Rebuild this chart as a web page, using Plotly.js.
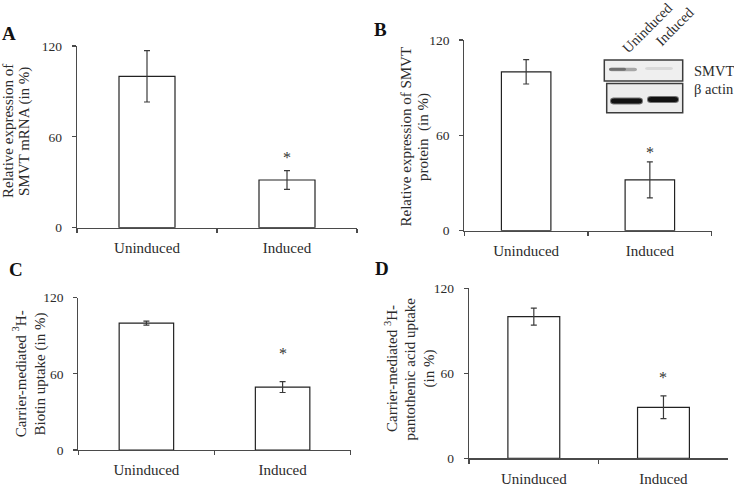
<!DOCTYPE html>
<html>
<head>
<meta charset="utf-8">
<script src="https://cdn.plot.ly/plotly-3.0.1.min.js"></script>
<style>html,body{margin:0;padding:0;background:#fff}#chart{width:734px;height:485px}</style>
</head>
<body>
<div id="chart"></div>
<script>
// ---------- data ----------
const categories = ["Uninduced", "Induced"];
const mrnaValues = [100, 31.5];
const mrnaErrors = [17, 6.2];
const proteinValues = [100, 32];
const proteinErrors = [7.7, 11.3];
const biotinValues = [100, 49.6];
const biotinErrors = [1.6, 4.3];
const pantoValues = [100, 36];
const pantoErrors = [6, 8];
const starLevels = [48.7, 51.8, 79.3, 59.6];   // height of "*" above the Induced bar, per panel
const yTickValues = [0, 60, 120];
const panelLetters = ["A", "B", "C", "D"];
const yTitleLines = [
  ["Relative expression of", "SMVT mRNA (in %)"],
  ["Relative expression of SMVT", "protein  (in %)"],
  ["Carrier-mediated <sup>3</sup>H-", "Biotin uptake (in %)"],
  ["Carrier-mediated <sup>3</sup>H-", "pantothenic acid uptake", "(in %)"]
];
const blotLanes = ["Uninduced", "Induced"];
const blotRows = ["SMVT", "\u03B2 actin"];

// ---------- layout helpers ----------
const W = 734, H = 485;
const fx = p => p / W;
const fy = p => 1 - p / H;
const FONT = "Liberation Serif";
const AX = "#4a4a4a";
const TXT = "#2b2b2b";

const panels = [
  {vals: mrnaValues, errs: mrnaErrors, xd: [77, 357], yd: [46, 227.7],
   letter: [8.5, 34], titleX: [8.5, 24.5], titleY: 131.5},
  {vals: proteinValues, errs: proteinErrors, xd: [464.3, 711.7], yd: [40, 230.7],
   letter: [381, 29], titleX: [405.5, 423], titleY: 137},
  {vals: biotinValues, errs: biotinErrors, xd: [78.3, 350.7], yd: [297.7, 450],
   letter: [16, 269], titleX: [19.3, 39.5], titleY: 374},
  {vals: pantoValues, errs: pantoErrors, xd: [469, 728.3], yd: [288.3, 458.3],
   letter: [381.5, 268.5], titleX: [391, 409.5, 428.5], titleY: 369}
];

const data = [];
const layout = {
  width: W, height: H,
  margin: {l: 0, r: 0, t: 0, b: 0},
  paper_bgcolor: "#fff", plot_bgcolor: "rgba(0,0,0,0)",
  showlegend: false,
  font: {family: FONT, color: TXT, size: 14},
  annotations: [], shapes: []
};

panels.forEach((p, i) => {
  const n = i + 1;
  const sfx = n === 1 ? "" : String(n);
  const xa = "x" + sfx, ya = "y" + sfx;
  data.push({
    type: "bar", x: categories, y: p.vals, xaxis: xa, yaxis: ya, width: 0.4,
    marker: {color: "#ffffff", line: {color: "#222", width: 1.2}},
    error_y: {type: "data", array: p.errs, visible: true, color: "#3a3a3a", thickness: 1.2, width: 3},
    hoverinfo: "skip"
  });
  layout.annotations.push({
    xref: xa, yref: ya, x: categories[1], y: starLevels[i], text: "*",
    showarrow: false, xanchor: "center", yanchor: "middle", yshift: -4,
    font: {family: FONT, size: 16, color: "#333"}
  });
  layout["xaxis" + sfx] = {
    domain: [fx(p.xd[0]), fx(p.xd[1])], anchor: ya, type: "category",
    range: [-0.5, 1.5], tickson: "boundaries", ticks: "outside", ticklen: 4,
    tickcolor: AX, tickwidth: 1.2, showline: true, linecolor: AX, linewidth: 1.2,
    showgrid: false, zeroline: false, fixedrange: true,
    tickfont: {family: FONT, size: 15, color: TXT}, ticklabelstandoff: 6
  };
  layout["yaxis" + sfx] = {
    domain: [fy(p.yd[1]), fy(p.yd[0])], anchor: xa, range: [0, 120],
    tickmode: "array", tickvals: yTickValues, ticktext: yTickValues.map(String),
    ticks: "outside", ticklen: 4, tickcolor: AX, tickwidth: 1.2,
    showline: true, linecolor: AX, linewidth: 1.2, showgrid: false, zeroline: false,
    fixedrange: true, tickfont: {family: FONT, size: 13.5, color: TXT}, ticklabelstandoff: 7
  };
  layout.annotations.push({
    xref: "paper", yref: "paper", x: fx(p.letter[0]), y: fy(p.letter[1]),
    text: panelLetters[i], showarrow: false,
    xanchor: "center", yanchor: "middle",
    font: {family: FONT, size: 19, color: "#111", weight: "bold"}
  });
  yTitleLines[i].forEach((line, k) => {
    layout.annotations.push({
      xref: "paper", yref: "paper", x: fx(p.titleX[k]), y: fy(p.titleY),
      text: line, showarrow: false, textangle: -90,
      xanchor: "center", yanchor: "middle",
      font: {family: FONT, size: 15, color: TXT}
    });
  });
});

// ---------- western blot inset (panel B) ----------
function rect(x0, y0, x1, y1, fill, lineColor, lw) {
  return {type: "rect", xref: "paper", yref: "paper", layer: "above",
    x0: fx(x0), x1: fx(x1), y0: fy(y1), y1: fy(y0),
    fillcolor: fill, line: {color: lineColor, width: lw}};
}
function band(x0, x1, yc, h, color, opacity) {
  const a = fx(x0), b = fx(x1), t = fy(yc - h / 2), m = fy(yc), bo = fy(yc + h / 2);
  const e = (b - a) * 0.08;
  const path = `M${a},${m} C${a},${t} ${a + e},${t} ${a + 2 * e},${t} L${b - 2 * e},${t} C${b - e},${t} ${b},${t} ${b},${m} ` +
    `C${b},${bo} ${b - e},${bo} ${b - 2 * e},${bo} L${a + 2 * e},${bo} C${a + e},${bo} ${a},${bo} ${a},${m} Z`;
  return {type: "path", xref: "paper", yref: "paper", layer: "above", path: path,
    fillcolor: color, opacity: opacity, line: {width: 0}};
}
layout.shapes.push(rect(604.3, 60, 682.7, 81, "#efefef", "#3c3c3c", 1.5));
layout.shapes.push(rect(606.7, 83.5, 682.7, 112.7, "#ececec", "#3c3c3c", 1.5));
layout.shapes.push(band(609, 637, 69.5, 3.6, "#777", 0.6));
layout.shapes.push(band(609, 626, 69.3, 3.0, "#444", 0.55));
layout.shapes.push(band(645, 673, 68.5, 3.0, "#c4c4c4", 0.5));
layout.shapes.push(band(610, 643, 101, 7, "#222", 0.6));
layout.shapes.push(band(611, 642, 101, 5, "#111", 1));
layout.shapes.push(band(647, 679, 99.5, 7, "#222", 0.6));
layout.shapes.push(band(648, 678, 99.5, 5, "#111", 1));

const laneCenters = [[647, 27.5], [674, 26.5]];
blotLanes.forEach((lab, k) => {
  layout.annotations.push({
    xref: "paper", yref: "paper", x: fx(laneCenters[k][0]), y: fy(laneCenters[k][1]),
    text: lab, showarrow: false, textangle: -45, xanchor: "center", yanchor: "middle",
    font: {family: FONT, size: 14.5, color: TXT}
  });
});
const rowPos = [[692, 70.5], [692, 88.5]];
blotRows.forEach((lab, k) => {
  layout.annotations.push({
    xref: "paper", yref: "paper", x: fx(rowPos[k][0]), y: fy(rowPos[k][1]),
    text: lab, showarrow: false, xanchor: "left", yanchor: "middle",
    font: {family: FONT, size: 14.5, color: TXT}
  });
});

Plotly.newPlot("chart", data, layout, {staticPlot: true, displayModeBar: false});
</script>
</body>
</html>
